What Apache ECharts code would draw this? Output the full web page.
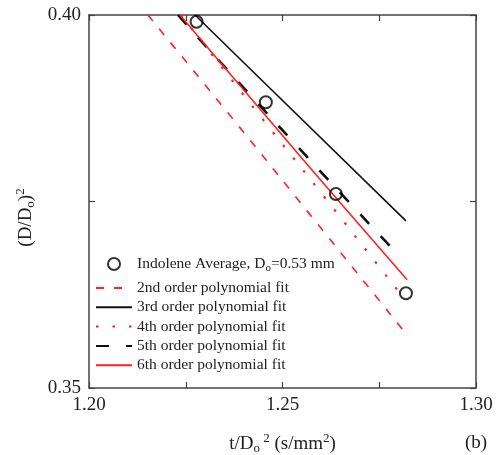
<!DOCTYPE html>
<html>
<head>
<meta charset="utf-8">
<script src="https://cdn.jsdelivr.net/npm/echarts@6/dist/echarts.min.js"></script>
<style>
  html, body { margin: 0; padding: 0; background: #fff; }
  #chart { width: 501px; height: 455px; }
</style>
</head>
<body>
<div id="chart"></div>
<script>
// measured points, Indolene average
const ptX = [1.2278, 1.2457, 1.2638, 1.2819];
const ptY = [0.3991, 0.3883, 0.3760, 0.3627];

// polynomial fit curves
const fit2X = [1.2152, 1.2357, 1.2589, 1.2817];
const fit2Y = [0.4000, 0.3870, 0.3721, 0.3574];
const fit3X = [1.2274, 1.2416, 1.2819];
const fit3Y = [0.4000, 0.3928, 0.3724];
const fit4X = [1.2238, 1.2434, 1.2628, 1.2817];
const fit4Y = [0.4000, 0.3870, 0.3743, 0.3618];
const fit5X = [1.2230, 1.2346, 1.2563, 1.2796];
const fit5Y = [0.4000, 0.3933, 0.3810, 0.3680];
const fit6X = [1.2235, 1.2450, 1.2643, 1.2822];
const fit6Y = [0.4000, 0.3869, 0.3752, 0.3645];

const xLabels = ['1.20', '1.25', '1.30'];
const yLabels = ['0.35', '0.40'];

const font = 'Liberation Serif, Times New Roman, serif';
const zip = (xs, ys) => xs.map((x, i) => [x, ys[i]]);

const rich = {
  sub: { fontSize: 13, fontFamily: font, color: '#222', padding: [9, 0, 0, 0] },
  sup: { fontSize: 13, fontFamily: font, color: '#222', padding: [0, 0, 11, 0] },
  lsub: { fontSize: 11, fontFamily: font, color: '#222', padding: [8, 0, 0, 0] }
};

const axisLineStyle = { color: '#444', width: 1.5 };
const tickStyle = { inside: true, length: 6, lineStyle: { color: '#444', width: 1.2 } };
const legendText = { fontSize: 15.5, fontFamily: font, color: '#222', rich: rich };

function onlyLabels(list) {
  return v => {
    const s = v.toFixed(2);
    return Math.round(v * 1000) % 50 === 0 && list.includes(s) ? s : '';
  };
}

function lineSeries(name, xs, ys, color, type, width) {
  return {
    name: name,
    type: 'line',
    data: zip(xs, ys),
    symbol: 'none',
    smooth: true,
    lineStyle: { color: color, width: width, type: type },
    itemStyle: { color: color },
    z: 2
  };
}

const fitNames = [
  '2nd order polynomial fit',
  '3rd order polynomial fit',
  '4th order polynomial fit',
  '5th order polynomial fit',
  '6th order polynomial fit'
];

const chart = echarts.init(document.getElementById('chart'));

chart.setOption({
  animation: false,
  grid: { left: 89, right: 25, top: 15, bottom: 67, outerBoundsMode: 'none', containLabel: false },
  xAxis: [{
    type: 'value',
    min: 1.20, max: 1.30, interval: 0.025,
    name: 't/D{sub|o}{sup| 2} (s/mm{sup|2})',
    nameLocation: 'middle',
    nameGap: 44,
    nameTextStyle: { fontSize: 19, fontFamily: font, color: '#222', rich: rich },
    axisLine: { show: true, lineStyle: axisLineStyle },
    axisTick: tickStyle,
    axisLabel: { fontSize: 19, fontFamily: font, color: '#222', margin: 8, formatter: onlyLabels(xLabels) },
    splitLine: { show: false }
  }, {
    type: 'value', position: 'top', min: 1.20, max: 1.30, interval: 0.025,
    axisLine: { show: true, lineStyle: axisLineStyle },
    axisTick: tickStyle,
    axisLabel: { show: false }, splitLine: { show: false }
  }],
  yAxis: [{
    type: 'value',
    min: 0.35, max: 0.40, interval: 0.025,
    name: '(D/D{sub|o}){sup|2}',
    nameLocation: 'middle',
    nameRotate: 90,
    nameGap: 49,
    nameTextStyle: { fontSize: 19, fontFamily: font, color: '#222', rich: rich, padding: [0, 32, 0, 0] },
    axisLine: { show: true, lineStyle: axisLineStyle },
    axisTick: tickStyle,
    axisLabel: { fontSize: 19, fontFamily: font, color: '#222', margin: 8, formatter: onlyLabels(yLabels) },
    splitLine: { show: false }
  }, {
    type: 'value', position: 'right', min: 0.35, max: 0.40, interval: 0.025,
    axisLine: { show: true, lineStyle: axisLineStyle },
    axisTick: tickStyle,
    axisLabel: { show: false }, splitLine: { show: false }
  }],
  graphic: [{
    type: 'text', left: 465, top: 434,
    style: { text: '(b)', font: '19px ' + font, fill: '#222' }
  }],
  legend: [{
    orient: 'vertical',
    left: 107, top: 256, padding: 0,
    itemWidth: 36, itemHeight: 12,
    textStyle: legendText,
    formatter: () => 'Indolene Average, D{lsub|o}=0.53 mm',
    data: [{ name: 'Indolene Average', icon: 'circle' }]
  }, {
    orient: 'vertical',
    left: 95, top: 280, padding: 0,
    itemWidth: 36, itemHeight: 12, itemGap: 3.3,
    textStyle: legendText,
    data: fitNames.map(n => ({ name: n, itemStyle: { opacity: 0 } }))
  }],
  series: [
    lineSeries(fitNames[0], fit2X, fit2Y, '#ff2020', [8, 10], 1.6),
    lineSeries(fitNames[1], fit3X, fit3Y, '#111', 'solid', 1.6),
    lineSeries(fitNames[2], fit4X, fit4Y, '#ff2020', [2.5, 14], 2.2),
    lineSeries(fitNames[3], fit5X, fit5Y, '#111', [13, 17], 2.6),
    lineSeries(fitNames[4], fit6X, fit6Y, '#ff2020', 'solid', 1.6),
    {
      name: 'Indolene Average',
      type: 'scatter',
      data: zip(ptX, ptY),
      symbol: 'circle',
      symbolSize: 12,
      itemStyle: { color: 'rgba(255,255,255,0)', borderColor: '#000', borderWidth: 2 },
      z: 5
    }
  ]
});
</script>
</body>
</html>
